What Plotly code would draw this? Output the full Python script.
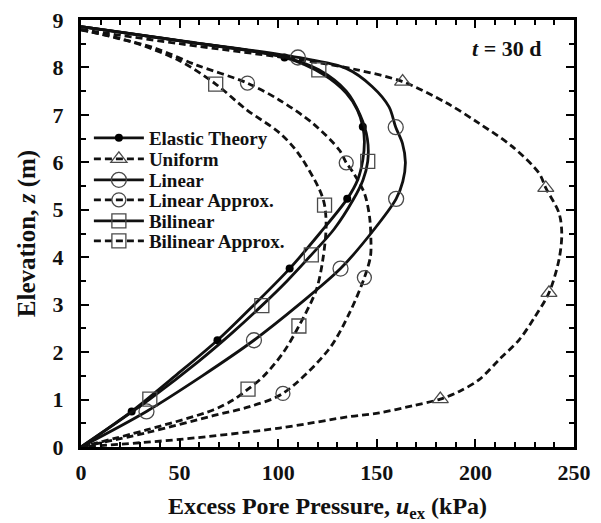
import plotly.graph_objects as go

# Excess pore pressure profiles at t = 30 d (u in kPa, z in m)
ELASTIC_Z = [8.86, 8.55, 8.21, 7.85, 7.46, 7.10, 6.75, 6.45, 6.05, 5.63, 5.23, 4.50, 3.76, 3.00, 2.25, 1.50, 0.75, 0.00]
ELASTIC_U = [0, 52, 103.2, 123, 134.5, 140.2, 142.9, 143.7, 142.9, 140.3, 135.0, 121.0, 105.8, 87.8, 69.2, 47.8, 25.7, 0]
ELASTIC_MARK = [2, 6, 10, 12, 14, 16]

UNIFORM_Z = [8.80, 8.50, 8.13, 7.95, 7.70, 7.26, 6.82, 6.33, 5.77, 5.46, 4.93, 4.50, 3.95, 3.25, 2.72, 2.26, 1.84, 1.42, 1.17, 1.01, 0.87, 0.72, 0.64, 0.40, 0.16, 0.00]
UNIFORM_U = [0, 50, 115.9, 140, 163.1, 185, 201.9, 218.8, 232.3, 235.7, 242.4, 243.8, 242.4, 237.3, 229.8, 222.2, 212.0, 201.9, 191.8, 182.2, 168.2, 151.3, 136.1, 100.7, 50.1, 0]
UNIFORM_MARK = [4, 9, 13, 19]

LINEAR_Z = [8.86, 8.55, 8.21, 7.98, 7.60, 7.17, 6.74, 6.40, 6.00, 5.60, 5.23, 4.50, 3.76, 3.00, 2.25, 1.50, 0.75, 0.00]
LINEAR_U = [0, 53, 110, 134.5, 147.6, 156.2, 159.6, 163.0, 164.5, 163.2, 159.8, 147.0, 131.6, 110.5, 87.7, 61.5, 33.2, 0]
LINEAR_MARK = [2, 6, 10, 12, 14, 16]

LINAPP_Z = [8.80, 8.62, 8.40, 8.05, 7.67, 7.31, 6.82, 6.26, 5.99, 5.80, 5.35, 4.86, 4.40, 4.02, 3.57, 2.82, 2.05, 1.13, 0.85, 0.66, 0.30, 0.00]
LINAPP_U = [0, 18, 38, 58.6, 84.4, 100.7, 117.6, 131.0, 134.5, 137.8, 143.7, 146.3, 147.0, 146.8, 143.7, 136.1, 125.5, 102.4, 85.5, 67.0, 33.2, 0]
LINAPP_MARK = [4, 8, 14, 17]

BILINEAR_Z = [8.86, 8.55, 8.21, 7.95, 7.50, 7.00, 6.50, 6.02, 5.63, 5.21, 4.60, 4.05, 3.50, 2.98, 2.40, 1.80, 1.01, 0.50, 0.00]
BILINEAR_U = [0, 52, 104, 120.6, 134.5, 141.5, 145.2, 145.4, 143.0, 138.0, 128.5, 116.8, 104.5, 91.7, 76.5, 59.5, 34.9, 17.5, 0]
BILINEAR_MARK = [3, 7, 11, 13, 16]

BILAPP_Z = [8.79, 8.55, 8.14, 7.65, 7.11, 6.62, 6.20, 5.42, 5.10, 4.64, 3.94, 3.31, 2.55, 1.98, 1.48, 1.22, 0.99, 0.78, 0.36, 0.00]
BILAPP_U = [0, 25, 50, 68.3, 83.9, 100.7, 110.0, 121.0, 123.5, 124.3, 122.6, 119.3, 110.5, 102.4, 92.3, 84.7, 77.1, 67.0, 33.2, 0]
BILAPP_MARK = [3, 8, 12, 15]

FONT = "Liberation Serif, Times New Roman, serif"
DASH = "7px,4px"
MK_EDGE = "#4a4a4a"
LW = 2.8

series = [
    ("Elastic Theory", ELASTIC_U, ELASTIC_Z, ELASTIC_MARK, "solid",
     dict(symbol="circle", size=8, color="black")),
    ("Uniform", UNIFORM_U, UNIFORM_Z, UNIFORM_MARK, DASH,
     dict(symbol="triangle-up-open", size=14, color=MK_EDGE, line=dict(width=1.3))),
    ("Linear", LINEAR_U, LINEAR_Z, LINEAR_MARK, "solid",
     dict(symbol="circle-open", size=15, color=MK_EDGE, line=dict(width=1.3))),
    ("Linear Approx.", LINAPP_U, LINAPP_Z, LINAPP_MARK, DASH,
     dict(symbol="circle-open", size=14, color=MK_EDGE, line=dict(width=1.3))),
    ("Bilinear", BILINEAR_U, BILINEAR_Z, BILINEAR_MARK, "solid",
     dict(symbol="square-open", size=14, color=MK_EDGE, line=dict(width=1.3))),
    ("Bilinear Approx.", BILAPP_U, BILAPP_Z, BILAPP_MARK, DASH,
     dict(symbol="square-open", size=14, color=MK_EDGE, line=dict(width=1.3))),
]

# one single-row legend per series so the rows can be spaced tightly
LEGEND_ROW_Y = [0.7237, 0.6745, 0.6253, 0.5785, 0.5293, 0.4824]
legend_font = dict(family=FONT, size=19, color="#111", weight="bold")

fig = go.Figure()
legend_layouts = {}
for k, (name, u, z, idx, dash, mk) in enumerate(series):
    line = dict(color="#111", width=LW, dash=dash, shape="spline", smoothing=0.9)
    # smooth profile curve
    fig.add_trace(go.Scatter(x=u, y=z, mode="lines", line=line,
                             showlegend=False, hoverinfo="skip"))
    # symbols on selected profile points
    fig.add_trace(go.Scatter(x=[u[i] for i in idx], y=[z[i] for i in idx],
                             mode="markers", marker=mk, showlegend=False))
    # legend entry combining line style and symbol
    lg = "legend" if k == 0 else f"legend{k + 1}"
    fig.add_trace(go.Scatter(x=[None], y=[None], mode="lines+markers", name=name,
                             legend=lg,
                             line=dict(color="#111", width=LW, dash=dash), marker=mk))
    legend_layouts[lg] = dict(
        x=0.016, y=LEGEND_ROW_Y[k], xanchor="left", yanchor="middle",
        bgcolor="rgba(0,0,0,0)", borderwidth=0, font=legend_font,
        itemwidth=50,
    )

axis_common = dict(
    showline=True, linecolor="black", linewidth=3, mirror="ticks",
    ticks="inside", tickcolor="black", tickwidth=2, ticklen=8,
    showgrid=False, zeroline=False, automargin=False,
    tickfont=dict(family=FONT, size=22, color="#111", weight="bold"),
)

fig.update_xaxes(
    range=[0, 250], dtick=50, tick0=0,
    minor=dict(dtick=10, ticks="inside", ticklen=5, tickwidth=2, tickcolor="black"),
    ticklabelstandoff=4,
    title=dict(text="Excess Pore Pressure, <i>u</i><sub>ex</sub> (kPa)",
               font=dict(family=FONT, size=24, color="#111", weight="bold"), standoff=16),
    **axis_common,
)
fig.update_yaxes(
    range=[0, 9], dtick=1, tick0=0,
    minor=dict(dtick=0.5, ticks="inside", ticklen=5, tickwidth=2, tickcolor="black"),
    ticklabelstandoff=10,
    title=dict(text="Elevation, <i>z</i> (m)",
               font=dict(family=FONT, size=25, color="#111", weight="bold"), standoff=10),
    **axis_common,
)

fig.add_annotation(
    x=0.864, y=0.934, xref="paper", yref="paper", showarrow=False,
    xanchor="center", yanchor="middle",
    text="<i>t</i> = 30 d",
    font=dict(family=FONT, size=22, color="#111", weight="bold"),
)

fig.update_layout(
    width=601, height=523,
    margin=dict(l=81, r=27, t=20, b=76),
    paper_bgcolor="white", plot_bgcolor="white",
    showlegend=True,
    **legend_layouts,
)

fig.write_html("out.html")
